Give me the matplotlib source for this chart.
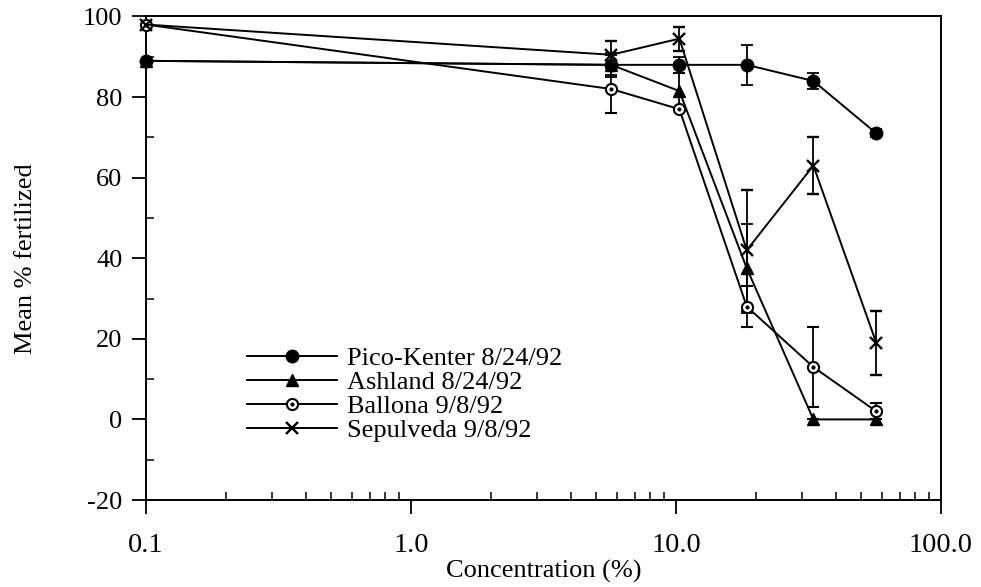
import matplotlib
matplotlib.use("Agg")
import matplotlib.pyplot as plt
from matplotlib.lines import Line2D
from matplotlib.ticker import FixedLocator, LogLocator, NullFormatter, MultipleLocator
from matplotlib.legend_handler import HandlerTuple

plt.rcParams['font.family'] = ['Liberation Serif', 'DejaVu Serif']
plt.rcParams['axes.unicode_minus'] = False

conc = [0.1, 5.7, 10.3, 18.5, 33, 57]

pico = [89, 88, 88, 88, 84, 71]
pico_err = [0, 2.5, 2, 5, 2, 1]

ashland = [89, 88, 81.5, 37.5, 0, 0]
ashland_err = [0, 3, 4.5, 11, 0, 0]

ballona = [98, 82, 77, 28, 13, 2]
ballona_err = [0, 6, 0, 5, 10, 2]

sepulveda = [98, 90.5, 94.5, 42, 63, 19]
sepulveda_err = [0, 3.3, 3, 15, 7, 8]

labels = ["Pico-Kenter 8/24/92", "Ashland 8/24/92", "Ballona 9/8/92", "Sepulveda 9/8/92"]
xticks = [0.1, 1.0, 10.0, 100.0]
xticklabels = ["0.1", "1.0", "10.0", "100.0"]
yticks = [-20, 0, 20, 40, 60, 80, 100]

fig = plt.figure(figsize=(9.81, 5.87), dpi=100)
ax = fig.add_axes([0.1488, 0.1482, 0.8104, 0.8237])

lw = 1.4
ekw = dict(elinewidth=1.3, capsize=4.3, capthick=1.3, ecolor='black')

ax.errorbar(conc, pico, yerr=pico_err, color='black', lw=lw, marker='o',
            ms=9, mfc='black', mec='black', clip_on=False, zorder=3, **ekw)
ax.errorbar(conc, ashland, yerr=ashland_err, color='black', lw=lw, marker='^',
            ms=9, mfc='black', mec='black', clip_on=False, zorder=3, **ekw)
ax.errorbar(conc, ballona, yerr=ballona_err, color='black', lw=lw, marker='o',
            ms=8, mfc='white', mec='black', mew=1.5, clip_on=False, zorder=4, **ekw)
ax.plot(conc, ballona, ls='none', marker='o', ms=2, color='black', zorder=5,
        clip_on=False)
ax.errorbar(conc, sepulveda, yerr=sepulveda_err, color='black', lw=lw, marker='x',
            ms=9, mew=1.7, mec='black', clip_on=False, zorder=4, **ekw)

ax.set_xscale('log')
ax.set_xlim(0.1, 100)
ax.set_ylim(-20, 100)

ax.xaxis.set_major_locator(FixedLocator(xticks))
ax.set_xticklabels(xticklabels)
ax.xaxis.set_minor_locator(LogLocator(base=10, subs=[2, 3, 4, 5, 6, 7, 8, 9]))
ax.xaxis.set_minor_formatter(NullFormatter())
ax.set_yticks(yticks)
ax.yaxis.set_minor_locator(MultipleLocator(10))

ax.tick_params(which='major', direction='out', length=10, width=1.3,
               top=False, right=False)
ax.tick_params(axis='x', which='major', labelsize=20.5, pad=14)
ax.tick_params(axis='y', which='major', labelsize=19, pad=7)
ax.tick_params(which='minor', direction='in', length=6, width=1.1, top=False, right=False)
for s in ax.spines.values():
    s.set_linewidth(1.4)

ax.set_xlabel("Concentration (%)", fontsize=19, labelpad=1)
ax.set_ylabel("Mean % fertilized", fontsize=19, labelpad=33)

hl1 = Line2D([], [], color='black', lw=lw, marker='o', ms=9)
hl2 = Line2D([], [], color='black', lw=lw, marker='^', ms=9)
hl3a = Line2D([], [], color='black', lw=lw, marker='o', ms=8, mfc='white', mew=1.5)
hl3b = Line2D([], [], ls='none', marker='o', ms=2, color='black')
hl4 = Line2D([], [], color='black', lw=lw, marker='x', ms=9, mew=1.7)

leg = ax.legend([hl1, hl2, (hl3a, hl3b), hl4], labels, loc='upper left',
                bbox_to_anchor=(247 / 981, 1 - 347 / 587),
                bbox_transform=fig.transFigure, frameon=False, fontsize=19,
                borderpad=0, borderaxespad=0,
                handlelength=3.4, handletextpad=0.4, labelspacing=0.02,
                handler_map={tuple: HandlerTuple(ndivide=1)})

fig.savefig("out.png", dpi=100)
